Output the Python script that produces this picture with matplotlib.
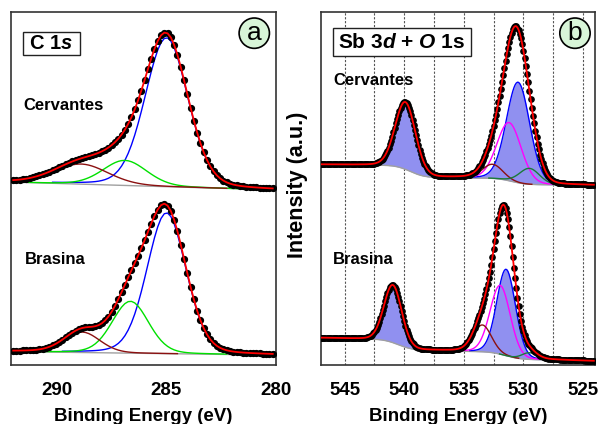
import math
import numpy as np
import matplotlib.pyplot as plt
from matplotlib.patches import Rectangle

plt.rcParams['font.family'] = ['Liberation Sans', 'DejaVu Sans']
plt.rcParams['font.weight'] = 'bold'
plt.rcParams['mathtext.fontset'] = 'custom'
plt.rcParams['mathtext.rm'] = 'Liberation Sans:bold'
plt.rcParams['mathtext.it'] = 'Liberation Sans:bold:italic'

# ---- C 1s fits (centre eV, height a.u., FWHM eV) : main C-C, C-O, O-C=O
c1s_colors = ['#0000ff', '#00e000', '#8b1010']
c1s_cerv_centre = [285.0, 286.9, 288.9]
c1s_cerv_height = [42.2, 7.1, 5.7]
c1s_cerv_fwhm = [2.3, 2.35, 2.9]
c1s_cerv_bg = [51.8, 49.6]          # background at 292 / 280 eV

c1s_bras_centre = [285.0, 286.65, 288.85]
c1s_bras_height = [39.9, 14.7, 5.8]
c1s_bras_fwhm = [2.1, 1.95, 1.9]
c1s_bras_bg = [3.8, 2.8]

# ---- Sb 3d + O 1s fits : Sb 3d3/2, Sb 3d5/2, O 1s (x3)
sb_colors = [None, '#0000ff', '#ff00ff', '#8b1010', '#1a7a3a']
sb_filled = [True, True, False, False, False]
sb_cerv_centre = [539.9, 530.45, 531.2, 532.6, 529.5]
sb_cerv_height = [19.0, 28.5, 16.5, 4.0, 4.5]
sb_cerv_fwhm = [2.0, 2.3, 2.4, 2.0, 2.0]
sb_cerv_bg = [50.9, 51.8]            # linear part at 524 / 547 eV
sb_cerv_steps = [3.3, 1.7]           # background steps under 540 / 531 peaks
sb_cerv_step_pos = [539.5, 531.0]

sb_bras_centre = [540.95, 531.45, 531.95, 533.45, 529.5]
sb_bras_height = [16.3, 24.5, 19.5, 7.6, 1.9]
sb_bras_fwhm = [1.75, 1.85, 2.0, 1.8, 1.5]
sb_bras_bg = [1.1, 3.0]
sb_bras_steps = [2.8, 1.9]
sb_bras_step_pos = [540.5, 531.5]

c1s_ticks = [290, 285, 280]
sb_ticks = [545, 540, 535, 530, 525]
sb_grid = [545, 542.5, 540, 537.5, 535, 532.5, 530, 527.5, 525]


def pvoigt(e, c, h, w, eta=0.15):
    x = (e - c) / w
    return h * ((1 - eta) * np.exp(-4 * np.log(2) * x ** 2) + eta / (1 + 4 * x ** 2))


erf = np.vectorize(math.erf)


def draw_spectrum(ax, e, bg, centres, heights, fwhms, colors, filled, span, eta, ms):
    comps = [pvoigt(e, c, h, w, eta) for c, h, w in zip(centres, heights, fwhms)]
    env = bg + np.sum(comps, axis=0)
    ax.plot(e, bg, color='#a0a0a0', lw=1.0, zorder=2)
    for comp, c, w, col, fl in zip(comps, centres, fwhms, colors, filled):
        m = np.abs(e - c) < span * w
        if fl:
            ax.fill_between(e, bg, bg + comp, color='#9090f0', lw=0, zorder=1.5)
        if col is not None:
            ax.plot(e[m], (bg + comp)[m], color=col, lw=1.0, zorder=3)
    ax.plot(e, env, 'o', color='black', ms=ms, zorder=4)
    ax.plot(e, env, color='#ff0000', lw=1.3, zorder=5)


fig = plt.figure(figsize=(6.03, 4.24), dpi=100)
ax1 = fig.add_axes([11 / 603, 59 / 424, 265 / 603, 353 / 424])
ax2 = fig.add_axes([320.7 / 603, 59 / 424, 274.3 / 603, 353 / 424])

# C 1s panel
e1 = np.arange(292.0, 280.0, -0.15)
bg_top = np.interp(e1, [280, 292], c1s_cerv_bg[::-1])
bg_bot = np.interp(e1, [280, 292], c1s_bras_bg[::-1])
draw_spectrum(ax1, e1, bg_top, c1s_cerv_centre, c1s_cerv_height, c1s_cerv_fwhm,
              c1s_colors, [False] * 3, 2.3, 0.15, 4.2)
draw_spectrum(ax1, e1, bg_bot, c1s_bras_centre, c1s_bras_height, c1s_bras_fwhm,
              c1s_colors, [False] * 3, 2.3, 0.15, 4.2)
ax1.set_xlim(292.1, 280)

# Sb 3d + O 1s panel
e2 = np.arange(547.0, 524.0, -0.1)
for bgv, steps, pos, cen, hei, fw in [
        (sb_cerv_bg, sb_cerv_steps, sb_cerv_step_pos, sb_cerv_centre, sb_cerv_height, sb_cerv_fwhm),
        (sb_bras_bg, sb_bras_steps, sb_bras_step_pos, sb_bras_centre, sb_bras_height, sb_bras_fwhm)]:
    bg = np.interp(e2, [524, 547], bgv)
    for s, p in zip(steps, pos):
        bg = bg + s * 0.5 * (1 + erf((e2 - p) / 1.3))
    draw_spectrum(ax2, e2, bg, cen, hei, fw, sb_colors, sb_filled, 1.7, 0.1, 3.8)
for g in sb_grid:
    ax2.axvline(g, color='#555555', lw=0.8, ls=(0, (2, 1.5)), zorder=0.5)
ax2.set_xlim(547.0, 524.0)

for ax, ticks in [(ax1, c1s_ticks), (ax2, sb_ticks)]:
    ax.set_ylim(0, 100)
    ax.set_yticks([])
    ax.set_xticks(ticks)
    ax.set_xticklabels([str(t) for t in ticks])
    ax.tick_params(axis='x', length=0, pad=12, labelsize=13.5)
    for sp in ax.spines.values():
        sp.set_linewidth(1.2)
        sp.set_color('#333333')
    ax.set_xlabel('Binding Energy (eV)', fontsize=13.5, fontweight='bold', labelpad=7)

# labels
ax1.add_patch(Rectangle((0.044, 0.878), 0.216, 0.066, transform=ax1.transAxes,
                        fill=False, ec='#222222', lw=1.0, zorder=6))
ax1.text(0.152, 0.911, r'C 1$\mathit{s}$', transform=ax1.transAxes, ha='center',
         va='center', fontsize=14.5, fontweight='bold', zorder=7)
ax2.add_patch(Rectangle((0.0437, 0.875), 0.503, 0.079, transform=ax2.transAxes,
                        fc='white', ec='#222222', lw=1.0, zorder=6))
ax2.text(0.295, 0.915, r'Sb 3$\mathit{d}$ + $\mathit{O}$ 1s', transform=ax2.transAxes,
         ha='center', va='center', fontsize=15, fontweight='bold', zorder=7)

ax1.text(0.045, 0.734, 'Cervantes', transform=ax1.transAxes, va='center', fontsize=12)
ax1.text(0.053, 0.300, 'Brasina', transform=ax1.transAxes, va='center', fontsize=12)
ax2.text(0.045, 0.805, 'Cervantes', transform=ax2.transAxes, va='center', fontsize=12)
ax2.text(0.045, 0.300, 'Brasina', transform=ax2.transAxes, va='center', fontsize=12)

circ = dict(boxstyle='circle,pad=0.12', fc='#d8f5d8', ec='black', lw=1.2)
ax1.text(0.918, 0.94, 'a', transform=ax1.transAxes, ha='center', va='center',
         fontsize=19, fontweight='normal', bbox=circ, zorder=7)
ax2.text(0.927, 0.94, 'b', transform=ax2.transAxes, ha='center', va='center',
         fontsize=19, fontweight='normal', bbox=circ, zorder=7)

fig.text(298 / 603, 0.564, 'Intensity (a.u.)', rotation=90, ha='center', va='center',
         fontsize=15.5, fontweight='bold')

fig.savefig('out.png', dpi=100)
